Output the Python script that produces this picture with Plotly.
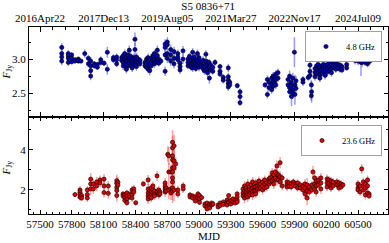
import plotly.graph_objects as go

# ---- 4.8 GHz (upper panel): epochs, fluxes at each epoch, typical error per epoch
ep_48 = [57705, 57767, 57799, 57830, 57862, 57887, 57922, 57956, 57978, 58012, 58041, 58073, 58104, 58135,
         58192, 58223, 58270, 58285, 58300, 58315, 58330, 58342, 58355, 58370, 58385, 58396, 58400, 58410,
         58425, 58443, 58490, 58505, 58520, 58535, 58550, 58565, 58580, 58595, 58607, 58620, 58640, 58680,
         58701, 58733, 58764, 58800, 58821, 58849, 58896, 58910, 58925, 58940, 58955, 58970, 58985, 59000,
         59015, 59038, 59050, 59065, 59080, 59095, 59098, 59110, 59130, 59151, 59198, 59229, 59276, 59290,
         59361, 59387, 59623, 59645, 59660, 59686, 59700, 59710, 59725, 59745, 59840, 59855, 59870, 59873,
         59885, 59900, 59905, 59915, 59981, 60030, 60047, 60060, 60062, 60094, 60110, 60125, 60140, 60160,
         60175, 60190, 60210, 60230, 60250, 60270, 60290, 60310, 60330, 60349, 60393, 60472, 60485, 60500,
         60515, 60528, 60538, 60566, 60590, 60613]
fl_48 = [[3.17, 3.08, 3.03, 2.97], [3.08, 3.05, 3.01, 2.95], [3.06, 3.01, 2.96], [2.99, 2.97], [3.00, 2.97, 2.98],
         [2.97], [3.08], [3.01, 2.93], [2.97, 2.90, 2.83, 2.75], [2.93, 2.90], [2.92, 2.88], [2.99, 2.95], [2.94],
         [3.10, 2.85], [3.02, 2.99], [3.03, 2.99, 2.93], [3.02, 2.98], [3.05, 2.95, 2.90], [3.00, 2.93, 3.08],
         [2.97, 2.88, 3.03, 2.85], [3.06, 2.99, 2.92], [3.13, 3.01, 2.94], [2.98, 2.90, 3.04], [2.95, 3.00, 2.87],
         [3.02, 2.93], [3.29, 3.14], [3.00, 2.92], [2.97, 3.03, 2.89], [3.00, 2.95], [2.98, 2.93], [2.95, 2.90],
         [3.00, 2.93, 2.88], [2.96, 2.85, 3.02], [2.91, 2.83], [3.01, 2.95, 2.90], [3.05, 2.98], [3.08, 2.99, 2.93],
         [3.03, 2.96], [3.13, 3.05, 2.98], [3.00, 2.94], [2.97], [3.22, 3.17, 3.06, 2.82], [3.25, 3.21, 3.08, 3.01],
         [3.14, 3.06, 2.97], [3.11, 3.01, 2.93], [3.08, 3.03, 2.99], [2.94, 2.89, 2.84], [3.12, 3.00],
         [2.95, 2.90, 3.00], [2.93, 2.97, 3.04], [2.88, 2.99, 2.92], [3.10, 3.01, 2.94, 2.87], [2.96, 3.03, 2.90],
         [2.93, 2.99, 2.86], [2.97, 3.08, 2.91], [3.02, 2.94, 2.88], [2.96, 2.90], [2.92, 2.98, 2.86],
         [2.94, 2.88, 2.83], [3.07, 2.97, 2.90], [2.93, 2.85, 2.80], [2.95, 2.89], [2.72], [2.91, 2.84],
         [2.88, 2.82], [2.95], [2.89, 2.82, 2.78], [2.73, 2.69], [2.87, 2.74, 2.69, 2.64, 2.59], [2.66, 2.62],
         [2.61], [2.52, 2.45, 2.36], [2.62], [2.70, 2.48], [2.66, 2.58], [2.72, 2.63, 2.55], [2.75, 2.68, 2.60],
         [2.73, 2.65], [2.78, 2.70, 2.62], [2.80, 2.72], [2.70, 2.62], [2.75, 2.58, 2.52], [2.66, 2.60], [2.45],
         [2.72, 2.55, 2.50], [3.10], [2.62, 2.48], [2.68, 2.57], [2.70, 2.66], [2.73], [2.91, 2.82, 2.76],
         [2.62, 2.46], [2.52], [2.86, 2.80, 2.74], [2.90, 2.84, 2.78], [2.87, 2.81, 2.92], [2.88, 2.83, 2.77, 2.72],
         [2.90, 2.85, 2.79], [2.92, 2.87, 2.82], [2.89, 2.84, 2.76], [2.92, 2.86, 2.81], [2.94, 2.89, 2.83],
         [2.92, 2.86, 2.80], [2.93, 2.88], [2.95, 2.90, 2.85], [2.92, 2.87], [2.91, 2.85], [2.89, 2.84],
         [2.92, 2.87], [3.05, 2.98, 3.00], [3.16, 3.08, 3.02], [3.10, 3.03, 2.97], [3.06, 2.99], [2.95],
         [3.18, 3.04, 2.95], [3.00, 2.95], [3.05, 2.99, 2.93], [3.02, 2.97]]
er_48 = [0.06, 0.05, 0.04, 0.03, 0.03, 0.03, 0.06, 0.05, 0.06, 0.04, 0.04, 0.05, 0.04, 0.08,
         0.05, 0.05, 0.05, 0.06, 0.06, 0.06, 0.06, 0.07, 0.06, 0.06, 0.06, 0.10, 0.06, 0.06,
         0.05, 0.05, 0.05, 0.05, 0.06, 0.07, 0.06, 0.06, 0.06, 0.06, 0.07, 0.05, 0.05, 0.07,
         0.07, 0.07, 0.07, 0.06, 0.06, 0.07, 0.05, 0.05, 0.05, 0.06, 0.05, 0.05, 0.06, 0.06,
         0.05, 0.06, 0.06, 0.06, 0.06, 0.05, 0.08, 0.05, 0.05, 0.05, 0.04, 0.05, 0.06, 0.05,
         0.04, 0.05, 0.04, 0.06, 0.06, 0.06, 0.06, 0.06, 0.06, 0.06, 0.06, 0.08, 0.08, 0.14,
         0.08, 0.22, 0.15, 0.07, 0.05, 0.05, 0.06, 0.07, 0.16, 0.06, 0.06, 0.06, 0.06, 0.06,
         0.06, 0.06, 0.06, 0.06, 0.06, 0.05, 0.05, 0.05, 0.05, 0.05, 0.04, 0.06, 0.06, 0.06,
         0.06, 0.20, 0.07, 0.05, 0.05, 0.05]

# ---- 23.6 GHz (lower panel)
ep_236 = [57830, 57877, 57893, 57946, 57978, 58003, 58035, 58066, 58104, 58144, 58224, 58235, 58283, 58300,
          58320, 58345, 58368, 58385, 58403, 58475, 58520, 58535, 58550, 58565, 58580, 58604, 58620, 58632,
          58680, 58690, 58705, 58715, 58735, 58750, 58765, 58780, 58800, 58851, 58915, 58940, 58965, 58990,
          59005, 59025, 59056, 59075, 59100, 59120, 59132, 59180, 59200, 59230, 59265, 59280, 59300, 59320,
          59340, 59360, 59415, 59430, 59445, 59460, 59475, 59490, 59505, 59520, 59535, 59550, 59565, 59580,
          59600, 59620, 59640, 59660, 59670, 59690, 59705, 59720, 59735, 59750, 59765, 59785, 59830, 59850,
          59870, 59890, 59910, 59930, 59955, 59980, 60000, 60020, 60040, 60065, 60075, 60090, 60105, 60125,
          60150, 60208, 60225, 60245, 60264, 60300, 60320, 60340, 60358, 60500, 60520, 60535, 60550, 60570,
          60590, 60605]
fl_236 = [[1.77], [2.00, 1.89, 1.77, 1.64], [1.72, 1.60], [2.00, 1.77, 1.60], [2.54, 2.30, 2.05], [2.30, 2.05],
          [2.40, 2.20], [2.50, 2.35], [2.54, 2.20, 1.87], [2.20, 1.83], [2.46, 2.33, 2.13, 1.97, 1.72], [2.38, 2.25],
          [1.80, 1.70], [1.75, 1.62, 1.48], [1.85, 1.70, 1.55, 1.36], [1.78, 1.65], [2.00, 1.77, 1.60], [2.05, 1.90],
          [1.36], [2.30], [2.50, 2.05, 1.85, 1.70, 1.55], [1.95, 1.80, 1.65], [2.10, 1.90, 1.75, 1.60],
          [2.20, 2.00, 1.85], [1.95, 1.80, 1.70], [2.70, 1.90], [2.00, 1.85, 1.75], [1.90, 1.80],
          [2.35, 2.20, 2.05, 1.90], [2.10, 1.95], [3.78], [3.70, 2.90, 2.00], [2.90, 2.05, 1.85],
          [4.38, 4.10, 3.70, 3.50, 3.10, 2.90, 2.60, 2.40, 2.10, 1.95], [4.20, 3.45, 3.10, 2.00], [3.30],
          [2.00, 1.80], [2.20, 2.05], [1.75, 1.65], [1.70, 1.60], [1.65, 1.55, 1.45], [1.80, 1.60],
          [1.72, 1.55, 1.38], [1.62], [1.30, 1.20], [1.35, 1.15, 1.05], [1.30, 1.20, 1.10], [1.35, 1.25], [1.30],
          [1.25, 1.15], [1.35, 1.22], [1.40, 1.28], [1.50, 1.35, 1.25], [1.72, 1.40], [1.48, 1.30], [1.55, 1.40],
          [1.50, 1.35], [1.80, 1.65, 1.50, 1.40], [2.05, 1.85, 1.70], [2.20, 1.95, 1.75, 1.60], [2.10, 1.90, 1.70],
          [2.30, 2.00, 1.80, 1.65], [2.05, 1.85, 1.75], [2.25, 2.00, 1.85], [2.40, 2.10, 1.90, 1.75], [2.15, 1.95],
          [2.35, 2.15, 1.95, 1.80], [2.20, 2.05], [2.45, 2.25, 2.05], [2.30, 2.10], [2.40, 2.20, 2.00],
          [2.50, 2.30, 2.10], [2.35, 2.15], [2.55, 2.30], [2.60, 2.40], [2.85, 2.65, 2.45], [2.75, 2.55, 2.30],
          [2.90, 2.60], [3.20, 2.80, 2.50], [2.75, 2.50], [3.36, 2.65, 2.40], [2.60, 2.20], [2.40, 2.25, 2.15],
          [2.35, 2.20], [2.30, 2.15], [2.40, 2.25], [2.30, 2.20], [2.35, 2.10], [2.25, 2.10], [2.20, 2.00],
          [2.30, 2.10, 1.80], [2.25, 1.95, 1.60], [2.15, 1.90], [2.25, 2.00], [2.90], [2.60, 2.30, 2.05],
          [2.45, 2.20, 1.90], [2.50, 2.25], [2.60, 2.35, 2.05], [2.55, 2.35, 2.15], [2.50, 2.30],
          [2.45, 2.25, 2.10], [2.40, 2.20], [2.40, 2.25], [2.35, 2.20, 2.10], [2.30, 2.15], [2.25],
          [2.30, 2.10, 2.00], [2.20, 1.90], [3.05], [2.40, 2.20, 2.00], [2.30, 2.10, 1.75], [2.50, 2.20, 1.85],
          [1.80, 1.70]]
er_236 = [0.12, 0.18, 0.15, 0.20, 0.30, 0.25, 0.25, 0.22, 0.25, 0.25, 0.30, 0.25, 0.15, 0.15,
          0.15, 0.15, 0.20, 0.20, 0.12, 0.15, 0.25, 0.20, 0.22, 0.22, 0.20, 0.25, 0.20, 0.18,
          0.25, 0.20, 0.40, 0.45, 0.35, 0.60, 0.55, 0.35, 0.20, 0.20, 0.12, 0.12, 0.12, 0.15,
          0.12, 0.10, 0.10, 0.10, 0.10, 0.10, 0.10, 0.10, 0.10, 0.12, 0.12, 0.12, 0.12, 0.12,
          0.12, 0.15, 0.22, 0.25, 0.22, 0.25, 0.22, 0.22, 0.25, 0.20, 0.22, 0.20, 0.22, 0.20,
          0.22, 0.22, 0.20, 0.22, 0.22, 0.25, 0.25, 0.22, 0.28, 0.22, 0.28, 0.22, 0.20, 0.18,
          0.18, 0.18, 0.18, 0.18, 0.18, 0.20, 0.25, 0.35, 0.20, 0.20, 0.30, 0.22, 0.25, 0.20,
          0.25, 0.22, 0.20, 0.20, 0.20, 0.18, 0.18, 0.18, 0.15, 0.20, 0.20, 0.25, 0.22, 0.22,
          0.22, 0.15]

top_tick_mjd = [57500, 58100, 58700, 59300, 59900, 60500]
top_tick_txt = ["2016Apr22", "2017Dec13", "2019Aug05", "2021Mar27", "2022Nov17", "2024Jul09"]


def flatten(eps, fls, ers):
    xs, ys, es = [], [], []
    for e, fl, er in zip(eps, fls, ers):
        for f in fl:
            xs.append(e)
            ys.append(f)
            es.append(er)
    return xs, ys, es


x48, y48, e48 = flatten(ep_48, fl_48, er_48)
x236, y236, e236 = flatten(ep_236, fl_236, er_236)

FONT = "Liberation Serif"
xr = [57396, 60783]

fig = go.Figure()
fig.add_trace(go.Scatter(
    x=x48, y=y48, mode="markers", name="4.8 GHz", xaxis="x2", yaxis="y2",
    error_y=dict(type="data", array=e48, color="rgba(70,70,255,0.55)", thickness=1.5, width=0),
    marker=dict(color="#0000b4", size=4.2, line=dict(color="black", width=0.6)),
    legend="legend"))
fig.add_trace(go.Scatter(
    x=x236, y=y236, mode="markers", name="23.6 GHz", xaxis="x", yaxis="y",
    error_y=dict(type="data", array=e236, color="rgba(255,70,70,0.5)", thickness=1.5, width=0),
    marker=dict(color="#e00000", size=4.2, line=dict(color="black", width=0.6)),
    legend="legend2"))

axcommon = dict(showline=True, linecolor="black", linewidth=1, mirror="allticks", ticks="inside",
                showgrid=False, zeroline=False, tickcolor="black",
                tickfont=dict(family=FONT, size=11, color="black"))

h_bot = 97 / 187
leg_x = (382 - 29) / 359
fig.update_layout(
    width=389, height=243,
    margin=dict(l=29, r=1, t=27, b=29),
    paper_bgcolor="white", plot_bgcolor="white",
    font=dict(family=FONT, size=11, color="black"),
    showlegend=True,
    title=dict(text="S5 0836+71", x=0.535, xanchor="center", y=1 - 6 / 243, yanchor="middle",
               font=dict(family=FONT, size=11, color="black")),
    xaxis=dict(range=xr, domain=[0, 1], anchor="y", dtick=300, tick0=57500, ticklen=4, tickformat="d",
               minor=dict(dtick=60, tick0=57500, ticklen=2, ticks="inside", tickcolor="black"),
               **axcommon),
    yaxis=dict(range=[0.8, 5.64], domain=[0, h_bot], anchor="x", dtick=2, tick0=0, ticklen=4,
               minor=dict(dtick=1, tick0=0, ticklen=2, ticks="inside", tickcolor="black"),
               **axcommon),
    xaxis2=dict(range=xr, domain=[0, 1], anchor="y2", side="top",
                tickvals=top_tick_mjd, ticktext=top_tick_txt, ticklen=5,
                minor=dict(dtick=120, tick0=57500, ticklen=2.5, ticks="inside", tickcolor="black"),
                **axcommon),
    yaxis2=dict(range=[2.15, 3.47], domain=[h_bot, 1], anchor="x2", dtick=0.5, tick0=2.5,
                tickformat=".1f", ticklen=4,
                minor=dict(dtick=0.25, tick0=2.5, ticklen=2, ticks="inside", tickcolor="black"),
                **axcommon),
    legend=dict(x=leg_x, y=(214 - 31) / 187, xanchor="right", yanchor="top",
                bordercolor="#a0a0a0", borderwidth=1, bgcolor="white",
                font=dict(family=FONT, size=8.5, color="black"), itemwidth=30,
                tracegroupgap=0),
    legend2=dict(x=leg_x, y=(214 - 125) / 187, xanchor="right", yanchor="top",
                 bordercolor="#a0a0a0", borderwidth=1, bgcolor="white",
                 font=dict(family=FONT, size=8.5, color="black"), itemwidth=30,
                 tracegroupgap=0),
    annotations=[
        dict(text="MJD", x=0.5, xref="paper", y=-22 / 187, yref="paper", yanchor="middle",
             showarrow=False, font=dict(family=FONT, size=11, color="black")),
        dict(text="<i>F</i><sub>Jy</sub>", x=-22.5 / 359, xref="paper", y=(214 - 72) / 187, yref="paper",
             textangle=-90, showarrow=False, xanchor="center", yanchor="middle",
             font=dict(family=FONT, size=11, color="black")),
        dict(text="<i>F</i><sub>Jy</sub>", x=-22.5 / 359, xref="paper", y=(214 - 168) / 187, yref="paper",
             textangle=-90, showarrow=False, xanchor="center", yanchor="middle",
             font=dict(family=FONT, size=11, color="black")),
    ],
)

fig.write_html("out.html", config={"displayModeBar": False},
               post_script="document.body.style.margin='0';document.body.style.overflow='hidden';")
